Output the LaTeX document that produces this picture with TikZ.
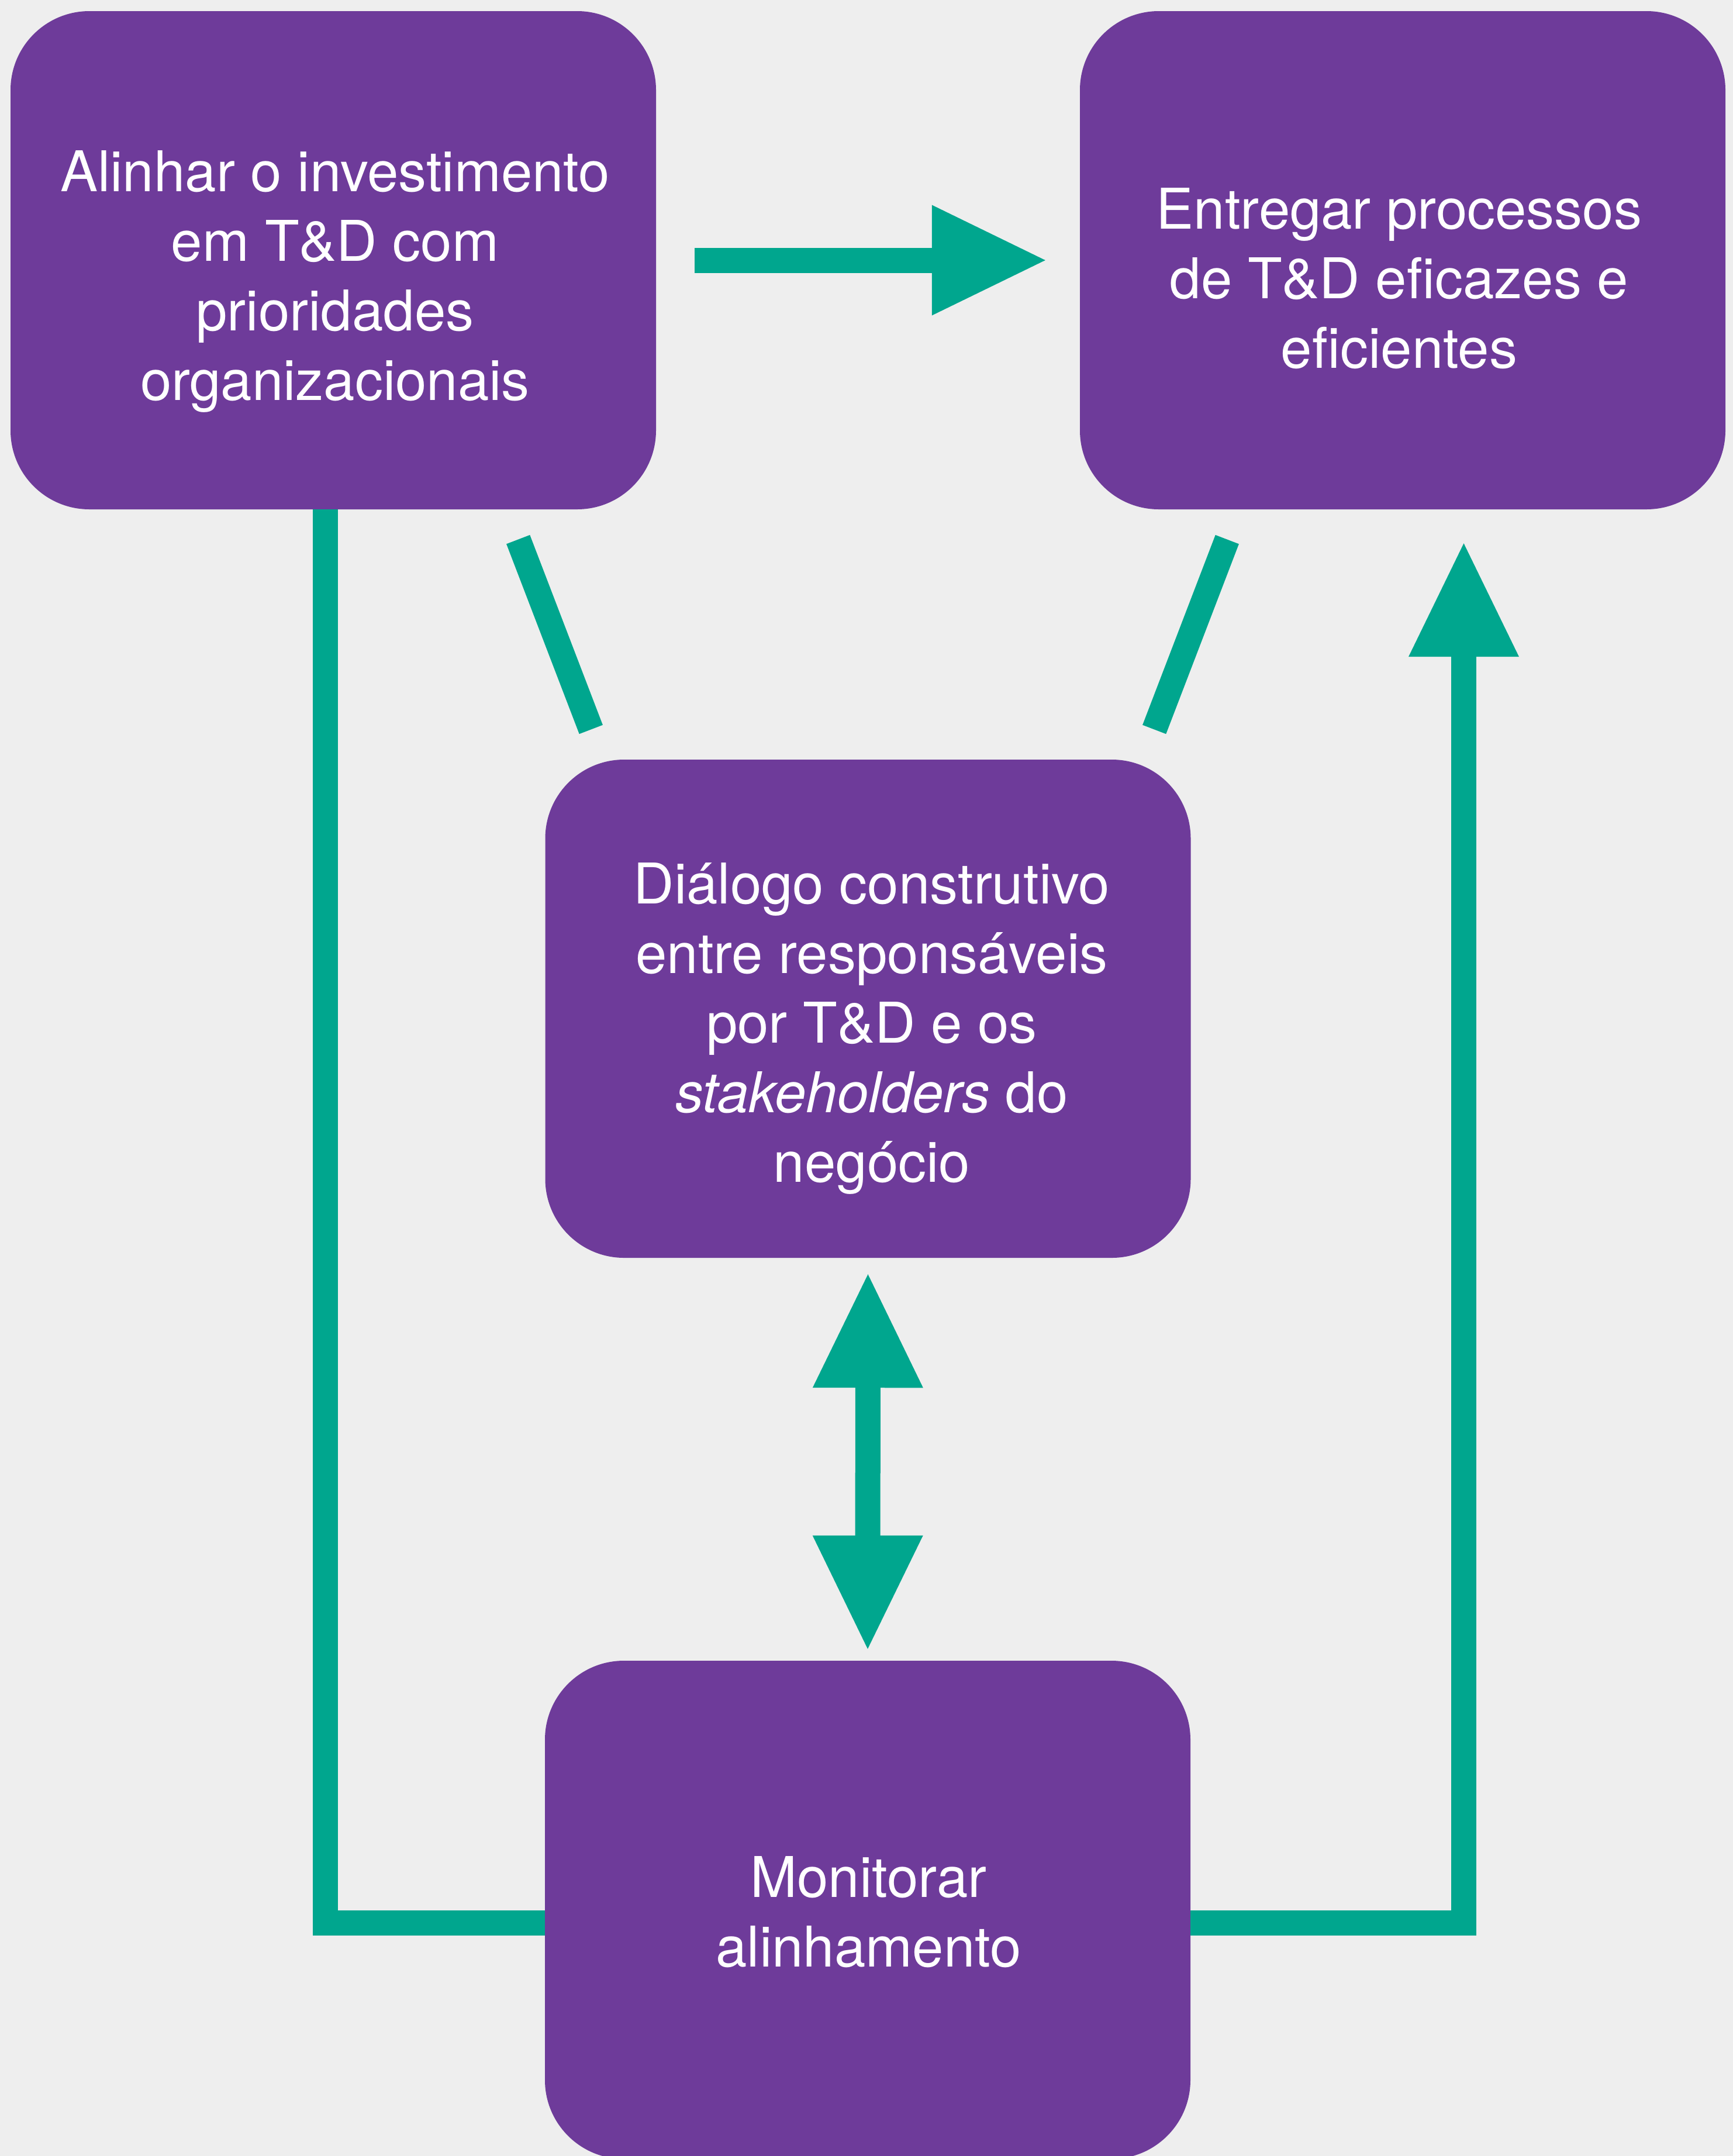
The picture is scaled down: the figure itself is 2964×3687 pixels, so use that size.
\documentclass[tikz,border=0pt]{standalone}
\usepackage{fontspec}
\setmainfont{TeX Gyre Heros}
\usetikzlibrary{arrows.meta}

\definecolor{fundo}{RGB}{238,238,238}
\definecolor{roxo}{RGB}{110,59,154}
\definecolor{verde}{RGB}{0,166,142}

\tikzset{
  caixa/.style={fill=roxo, rounded corners=135pt, inner sep=0pt,
    minimum width=1104pt, minimum height=852pt},
  texto/.style={anchor=north, align=center, inner sep=0pt, text=white,
    font=\fontsize{96}{119}\selectfont},
  ligacao/.style={draw=verde, line width=43pt, line join=miter},
}

\begin{document}
\begin{tikzpicture}[x=1pt, y=-1pt,
  >={Triangle[length=194pt, width=189pt, line width=0pt]}]

  %% ════ 底色 ════
  \fill[fundo] (0,0) rectangle (2964,3687);

  %% ════ 方框 ════
  \node[caixa] (alinhar)    at (570,445)    {};
  \node[caixa] (entregar)   at (2399,445)   {};
  \node[caixa] (dialogo)    at (1484.5,1725) {};
  \node[caixa] (monitorar)  at (1484,3266)  {};

  %% ════ 文字 ════
  \node[texto] (alinhar-t)   at (573,257)    {Alinhar o investimento\\em T\&D com\\prioridades\\organizacionais};
  \node[texto] (entregar-t)  at (2393,321)   {Entregar processos\\de T\&D eficazes e\\eficientes};
  \node[texto] (dialogo-t)   at (1491,1475)  {Diálogo construtivo\\entre responsáveis\\por T\&D e os\\\textit{stakeholders} do\\negócio};
  \node[texto] (monitorar-t) at (1485.5,3174) {Monitorar\\alinhamento};

  %% ════ 连线 ════
  \draw[ligacao, ->, shorten <=66pt, shorten >=59pt] (alinhar.east) -- (entregar.west);
  % 两条斜线：两端都离开方框 55
  \draw[ligacao, shorten <=55pt, shorten >=55pt] ([xshift=296.5pt]alinhar.south) -- ([xshift=-454pt]dialogo.north);
  \draw[ligacao, shorten <=55pt, shorten >=55pt] ([xshift=-280.5pt]entregar.south) -- ([xshift=470pt]dialogo.north);
  \draw[ligacao, <->, shorten <=28pt, shorten >=20pt] (dialogo.south) -- (monitorar.north);
  % 两侧折线
  \draw[ligacao] ([xshift=-13.5pt]alinhar.south) |- ([yshift=-22pt]monitorar.west);
  \draw[ligacao, ->, shorten >=58pt] ([yshift=-22pt]monitorar.east) -| ([xshift=104.5pt]entregar.south);

  % 钉死画布
  \pgfresetboundingbox
  \path[use as bounding box] (0,0) rectangle (2964,3687);
\end{tikzpicture}
\end{document}
